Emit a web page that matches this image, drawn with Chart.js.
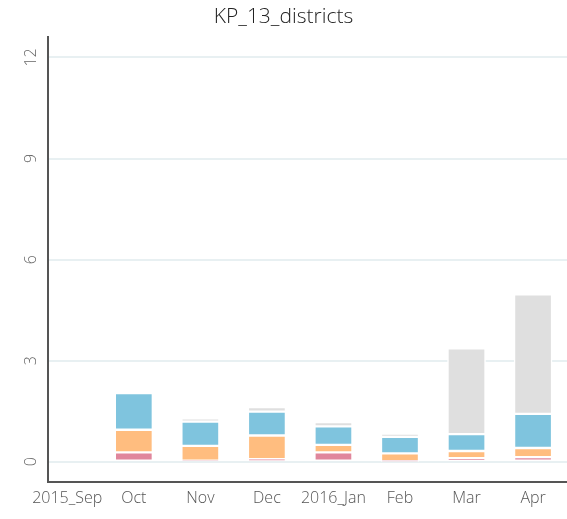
<!DOCTYPE html>
<html>
<head>
<meta charset="utf-8">
<script src="https://cdn.jsdelivr.net/npm/chart.js@4"></script>
<style>
  html, body { margin: 0; padding: 0; background: #fff; }
  #wrap { width: 567px; height: 519px; }
</style>
</head>
<body>
<div id="wrap"><canvas id="chart"></canvas></div>
<script>
// month labels on the x axis
const months = ['2015_Sep', 'Oct', 'Nov', 'Dec', '2016_Jan', 'Feb', 'Mar', 'Apr'];
const yTicks = [0, 3, 6, 9, 12];

// stacked series, bottom to top
const pinkValues   = [0, 0.28, 0.03, 0.08, 0.28, 0.02, 0.11, 0.14];
const orangeValues = [0, 0.67, 0.44, 0.70, 0.22, 0.23, 0.21, 0.27];
const blueValues   = [0, 1.09, 0.72, 0.71, 0.55, 0.49, 0.50, 1.01];
const greyValues   = [0, 0.00, 0.10, 0.13, 0.13, 0.10, 2.55, 3.55];

const FONT = '"Open Sans", "DejaVu Sans", sans-serif';

function toPoints(values) {
    return values.map(function (v, i) { return { x: i, y: v }; });
}

function makeDataset(label, values, color) {
    return {
        label: label,
        data: toPoints(values),
        backgroundColor: color,
        borderColor: '#ffffff',
        borderWidth: 1.5,
        borderSkipped: false,
        barThickness: 38
    };
}

// y tick labels are rotated, which chart.js won't do for a vertical axis
const rotatedYLabels = {
    id: 'rotatedYLabels',
    afterDraw: function (chart) {
        const ctx = chart.ctx;
        const y = chart.scales.y;
        ctx.save();
        ctx.fillStyle = '#666';
        ctx.font = '300 16px ' + FONT;
        ctx.textAlign = 'center';
        ctx.textBaseline = 'middle';
        yTicks.forEach(function (t) {
            const py = y.getPixelForValue(t);
            ctx.save();
            ctx.translate(31, py);
            ctx.rotate(-Math.PI / 2);
            ctx.fillText(String(t), 0, 0);
            ctx.restore();
        });
        ctx.restore();
    }
};

const ctx = document.getElementById('chart').getContext('2d');
new Chart(ctx, {
    type: 'bar',
    data: {
        datasets: [
            makeDataset('Pink', pinkValues, '#e0869c'),
            makeDataset('Orange', orangeValues, '#ffbd7f'),
            makeDataset('Blue', blueValues, '#7fc4de'),
            makeDataset('Grey', greyValues, '#dfdfdf')
        ]
    },
    options: {
        responsive: true,
        maintainAspectRatio: false,
        animation: false,
        layout: { padding: { left: 0, right: 0, top: 0, bottom: 0 } },
        plugins: {
            legend: { display: false },
            tooltip: { enabled: false },
            title: {
                display: true,
                text: 'KP_13_districts',
                color: '#222',
                font: { family: FONT, size: 21, weight: '300' },
                padding: { top: 4, bottom: 8 }
            }
        },
        scales: {
            x: {
                type: 'linear',
                stacked: true,
                offset: false,
                min: -0.29,
                max: 7.51,
                afterBuildTicks: function (scale) {
                    scale.ticks = months.map(function (m, i) { return { value: i }; });
                },
                afterFit: function (scale) { scale.height = 37; },
                grid: { display: false, drawTicks: false, offset: false },
                border: { display: true, color: '#555', width: 2 },
                ticks: {
                    color: '#555',
                    font: { family: FONT, size: 16, weight: '300' },
                    padding: 7,
                    maxRotation: 0,
                    autoSkip: false,
                    callback: function (v) { return months[v]; }
                }
            },
            y: {
                stacked: true,
                min: -0.6,
                max: 12.6,
                afterBuildTicks: function (scale) {
                    scale.ticks = yTicks.map(function (v) { return { value: v }; });
                },
                afterFit: function (scale) { scale.width = 48; },
                grid: { color: '#e8f0f2', lineWidth: 2, drawTicks: false },
                border: { display: true, color: '#555', width: 2 },
                ticks: { display: false }
            }
        }
    },
    plugins: [rotatedYLabels]
});
</script>
</body>
</html>
